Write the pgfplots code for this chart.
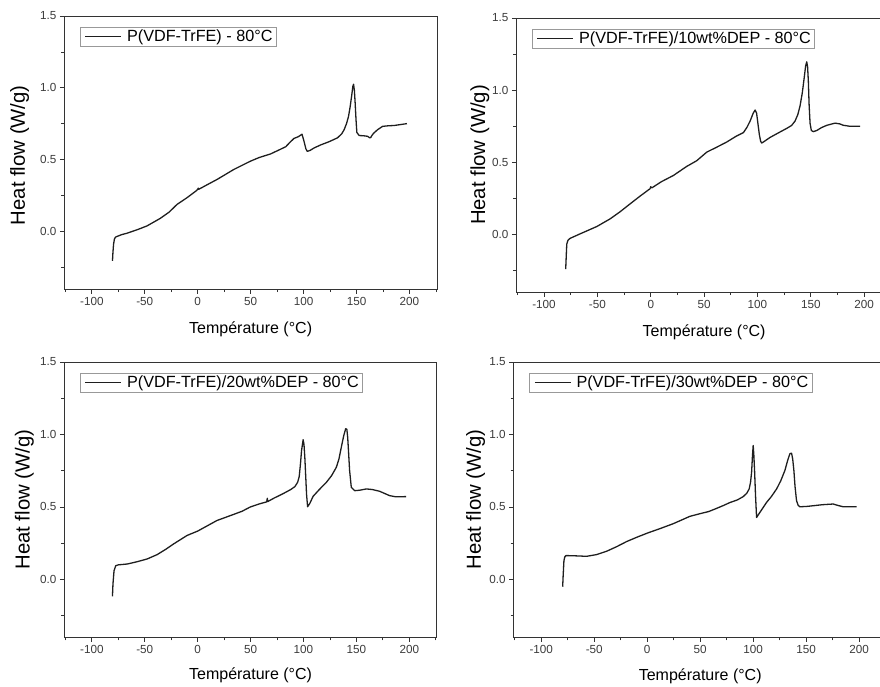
\documentclass[border=0pt]{standalone}
\usepackage{pgfplots}
\pgfplotsset{compat=1.18}
\usepackage{fontspec}
\setmainfont{Liberation Sans}
\definecolor{axgray}{HTML}{333333}
\definecolor{tlgray}{HTML}{3C3C3C}
\definecolor{curve}{HTML}{1E1E1E}
\definecolor{leggray}{HTML}{999999}
\newcommand{\ylabfont}{\fontsize{20.3}{22}\selectfont}
\pgfplotsset{
  dsc/.style={
    scale only axis,
    xmin=-126, xmax=226, ymin=-0.4, ymax=1.5,
    xtick={-100,-50,0,50,100,150,200},
    minor xtick={-125,-75,-25,25,75,125,175,225},
    ytick={0,0.5,1.0,1.5},
    minor ytick={-0.25,0.25,0.75,1.25},
    tick pos=left,
    tick align=outside,
    major tick length=4.5pt,
    minor tick length=3pt,
    every tick/.style={axgray, line width=0.8pt},
    axis line style={axgray, line width=1pt},
    /pgf/number format/assume math mode=true,
    yticklabel style={/pgf/number format/fixed, /pgf/number format/fixed zerofill, /pgf/number format/precision=1},
    ticklabel style={font=\fontsize{11.7}{13}\selectfont, text=tlgray},
    xlabel={Température (°C)},
    ylabel={\ylabfont Heat flow (W/g)},
    xlabel style={font=\fontsize{16}{18}\selectfont, at={(axis description cs:0.5,0)}, anchor=center, yshift=-40pt},
    ylabel style={anchor=center},
    legend style={draw=leggray, line width=0.6pt, at={(0,1)}, anchor=north west, xshift=15.5pt, yshift=-10.5pt,
      font=\fontsize{16.2}{17.5}\selectfont, inner xsep=2pt, inner ysep=1.5pt,
      nodes={inner sep=1.5pt}},
    legend image code/.code={\path[draw=none] (-2pt,0pt) -- (41.5pt,0pt); \draw[#1, line width=1pt] (1.3pt,0pt) -- (37pt,0pt);},
    legend cell align=left,
  },
  crv/.style={curve, line width=1.3pt, line join=round, mark=none},
}
\begin{document}
\begin{tikzpicture}
\path[use as bounding box] (0,0) rectangle (880pt,-686pt);
% Panel 1
\begin{axis}[dsc, at={(64.3pt,-289pt)}, anchor=south west, width=372.7pt, height=273pt,
  ylabel style={at={(axis description cs:-0.120,0.49)}}]
\addplot[crv] coordinates {
(-80.5,-0.204) (-80.1,-0.15) (-79.5,-0.09) (-78.6,-0.05) (-77.5,-0.038) (-72,-0.022)
(-66.9,-0.012) (-57,0.013) (-47.9,0.039) (-35.3,0.092) (-27,0.135) (-19.5,0.189)
(-10,0.236) (-2,0.28) (0,0.293) (0.5,0.302) (1,0.294) (8,0.322) (18.4,0.363) (34.1,0.432)
(49.9,0.49) (58,0.515) (68.8,0.54) (76,0.565) (83.1,0.59) (87,0.62) (90.9,0.648)
(95,0.66) (98.5,0.677) (100.4,0.628) (102.2,0.575) (103.5,0.558) (106,0.564)
(110,0.582) (116.2,0.603) (124,0.625) (132,0.652) (136,0.68) (138.3,0.709)
(140.5,0.75) (142.4,0.80) (144,0.87) (145.5,0.95) (146.5,1.01) (147.2,1.025)
(148,0.98) (148.7,0.894) (149.5,0.78) (150.3,0.69) (152.5,0.668) (156,0.667)
(160.4,0.663) (162.5,0.652) (163.5,0.655) (164.5,0.668) (166,0.683) (169.9,0.709)
(174.6,0.732) (180,0.736) (185.6,0.738) (192,0.745) (197.6,0.751)
};
\addlegendentry{P(VDF-TrFE) - 80°C}
\end{axis}
% Panel 2
\begin{axis}[dsc, at={(516.3pt,-292pt)}, anchor=south west, width=375.6pt, height=274pt,
  ylabel style={at={(axis description cs:-0.097,0.5)}}]
\addplot[crv] coordinates {
(-79.7,-0.241) (-79.2,-0.15) (-78.7,-0.067) (-77.5,-0.04) (-75.6,-0.028) (-66.3,0.003)
(-50.6,0.054) (-38.1,0.107) (-29,0.155) (-19.4,0.211) (-10,0.265) (-0.7,0.316)
(0,0.33) (1,0.322) (10,0.365) (21.2,0.408) (33.7,0.471) (43,0.51) (52.5,0.570)
(62,0.605) (71.2,0.64) (80,0.68) (86.8,0.705) (90,0.74) (93.1,0.785) (96,0.84)
(97.8,0.862) (99.2,0.84) (100.4,0.77) (101.8,0.69) (103,0.645) (104,0.633)
(106.5,0.645) (111.8,0.672) (120,0.705) (127.5,0.735) (132,0.755) (135.2,0.785)
(137.8,0.83) (139.9,0.89) (142,0.98) (143.7,1.08) (145.2,1.17) (146.2,1.196)
(147,1.16) (147.7,1.06) (148.4,0.90) (149.3,0.77) (150.5,0.72) (152.4,0.712)
(155.6,0.72) (160,0.74) (165,0.756) (172.7,0.771) (177,0.766) (180.5,0.756)
(186,0.75) (196.2,0.749)
};
\addlegendentry{P(VDF-TrFE)/10wt\%DEP - 80°C}
\end{axis}
% Panel 3
\begin{axis}[dsc, at={(64.3pt,-637.3pt)}, anchor=south west, width=372.5pt, height=275.3pt,
  ylabel style={at={(axis description cs:-0.107,0.5)}}, xlabel style={yshift=2pt}]
\addplot[crv] coordinates {
(-80.5,-0.118) (-80,-0.03) (-79,0.06) (-77.4,0.094) (-75,0.1) (-66.4,0.106)
(-57,0.122) (-47.6,0.141) (-38.2,0.171) (-30,0.208) (-22.6,0.245) (-10,0.303)
(0,0.333) (8,0.365) (18.2,0.406) (33.9,0.448) (42,0.47) (49.6,0.499) (58,0.52)
(65.3,0.535) (65.8,0.56) (66.3,0.537) (72,0.56) (80.9,0.592) (88,0.62) (91.9,0.64)
(94.5,0.67) (96,0.71) (97.2,0.80) (98.2,0.89) (99.7,0.964) (100.5,0.93) (101.3,0.84)
(102.2,0.70) (102.9,0.589) (103.9,0.501) (106,0.524) (109.1,0.573) (115,0.62)
(121.7,0.67) (126.5,0.715) (131.1,0.774) (133.5,0.83) (135.8,0.913) (138,0.99)
(139.9,1.04) (141,1.035) (141.8,0.98) (142.6,0.88) (143.6,0.751) (145.2,0.635)
(148.4,0.612) (153,0.615) (159.4,0.624) (165,0.62) (171.9,0.608) (176,0.595)
(181.3,0.578) (187,0.57) (197,0.571)
};
\addlegendentry{P(VDF-TrFE)/20wt\%DEP - 80°C}
\end{axis}
% Panel 4
\begin{axis}[dsc, at={(513.7pt,-637.3pt)}, anchor=south west, width=373pt, height=275.3pt,
  ylabel style={at={(axis description cs:-0.102,0.5)}}, xlabel style={yshift=1pt}]
\addplot[crv] coordinates {
(-79.8,-0.051) (-79.3,0.03) (-78.6,0.129) (-77.8,0.155) (-76.7,0.164) (-70,0.163)
(-57.2,0.159) (-47.7,0.171) (-38.3,0.194) (-29,0.225) (-19.4,0.261) (-10,0.29)
(0,0.319) (12,0.35) (24.5,0.384) (40.3,0.435) (49.7,0.453) (58,0.468) (65.5,0.49)
(72,0.51) (78,0.530) (85,0.548) (90.6,0.571) (94,0.595) (96.2,0.624) (97.5,0.67)
(98.5,0.74) (99.3,0.85) (100,0.924) (100.6,0.86) (101.3,0.751) (102.2,0.58)
(103.2,0.427) (106.3,0.462) (112.6,0.531) (117,0.57) (122.1,0.624) (126,0.68)
(129.9,0.751) (132.5,0.82) (134.6,0.867) (136.2,0.871) (137.3,0.83) (138.4,0.751)
(139.5,0.64) (140.9,0.543) (142.5,0.51) (144.1,0.501) (150,0.503) (156.6,0.508)
(165,0.515) (175.5,0.52) (180,0.51) (184.9,0.501) (197.5,0.501)
};
\addlegendentry{P(VDF-TrFE)/30wt\%DEP - 80°C}
\end{axis}
\end{tikzpicture}
\end{document}
